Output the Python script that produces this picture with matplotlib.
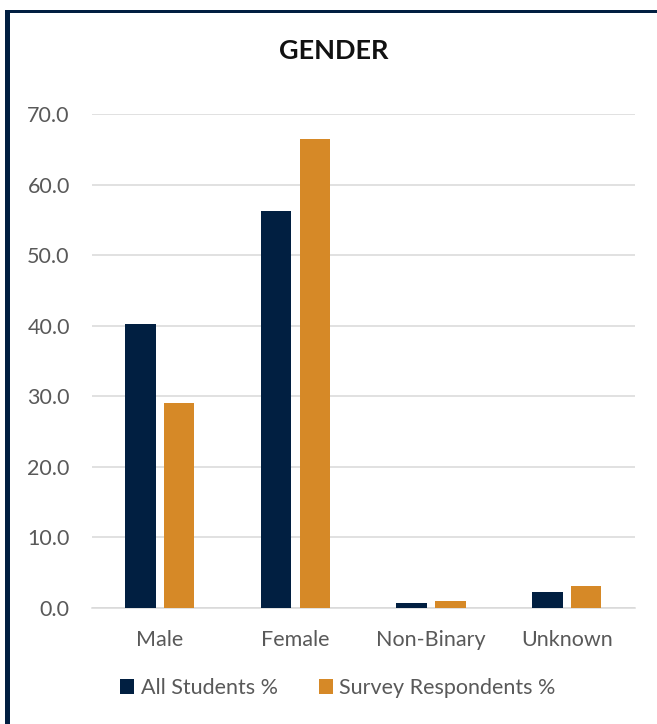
import matplotlib
matplotlib.use("Agg")
import matplotlib.pyplot as plt
from matplotlib.patches import Rectangle
import numpy as np

categories = ["Male", "Female", "Non-Binary", "Unknown"]
all_students = [40.3, 56.3, 0.7, 2.3]
survey_respondents = [29.0, 66.5, 1.0, 3.1]
series_names = ["All Students %", "Survey Respondents %"]
y_ticks = [0, 10, 20, 30, 40, 50, 60, 70]

NAVY = "#011f41"
ORANGE = "#d68927"
GRID = "#d9d9d9"
TEXT = "#595959"

plt.rcParams["font.family"] = ["Lato", "DejaVu Sans"]

W, H = 657, 724
fig = plt.figure(figsize=(W / 100, H / 100), dpi=100)
fig.patch.set_facecolor("white")

ax = fig.add_axes([92 / W, 1 - 608 / H, (634.5 - 92) / W, (608 - 114) / H])

x = np.arange(len(categories))
bw = 0.225
off = 0.143
ax.bar(x - off, all_students, bw, color=NAVY, label=series_names[0], zorder=3)
ax.bar(x + off, survey_respondents, bw, color=ORANGE, label=series_names[1], zorder=3)

ax.set_xlim(-0.5, len(categories) - 0.5)
ax.set_ylim(0, 70)
ax.set_yticks(y_ticks)
ax.set_yticklabels([f"{v:.1f}" for v in y_ticks])
ax.set_xticks(x)
ax.set_xticklabels(categories)

ax.grid(axis="y", color=GRID, linewidth=1.1, zorder=0)
for s in ["top", "right", "left"]:
    ax.spines[s].set_visible(False)
ax.spines["bottom"].set_color(GRID)
ax.spines["bottom"].set_linewidth(1.1)
ax.tick_params(axis="both", length=0, labelsize=15.5, labelcolor=TEXT)
ax.tick_params(axis="y", pad=16)
ax.tick_params(axis="x", pad=16)

fig.text(334 / W, 1 - 51 / H, "GENDER", ha="center", va="center",
         fontsize=19.5, fontweight="bold", color="#111111")

handles, labels = ax.get_legend_handles_labels()
leg = fig.legend(handles, labels, loc="center", bbox_to_anchor=(338 / W, 1 - 688 / H),
                 ncol=2, frameon=False, fontsize=15.5, handlelength=0.65,
                 handleheight=0.65, handletextpad=0.3, columnspacing=1.9)
for t in leg.get_texts():
    t.set_color(TEXT)

# dark frame on the top and left edges
fig.add_artist(Rectangle((5 / W, 1 - 13 / H), (W - 5) / W, 3 / H,
                         transform=fig.transFigure, color=NAVY, lw=0))
fig.add_artist(Rectangle((5 / W, 0), 5 / W, 1 - 10 / H,
                         transform=fig.transFigure, color=NAVY, lw=0))

fig.savefig("out.png", dpi=100, facecolor="white")
